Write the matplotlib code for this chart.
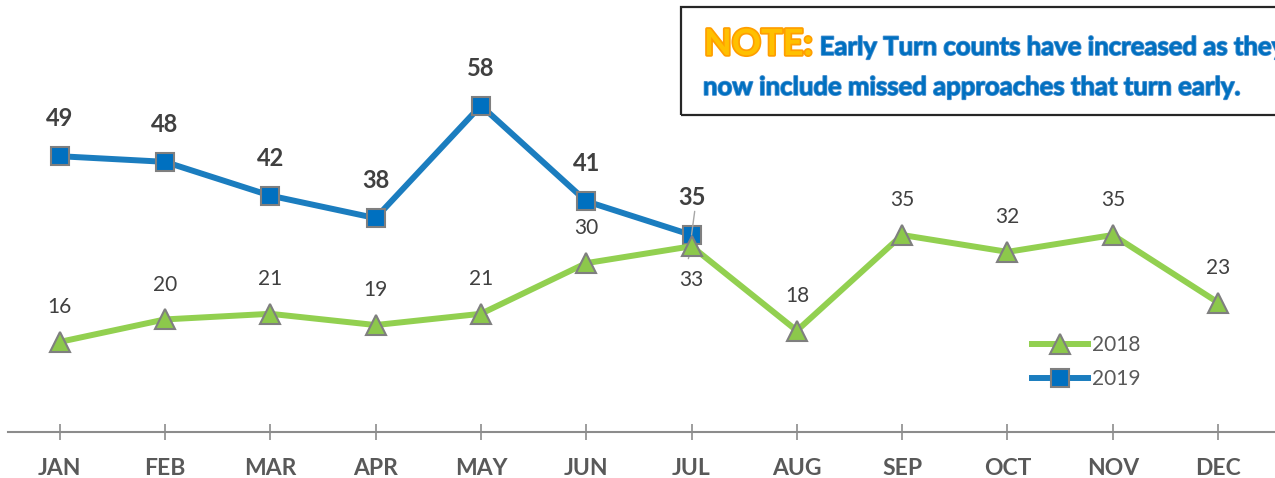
import matplotlib
matplotlib.use("Agg")
import matplotlib.pyplot as plt
import matplotlib.patheffects as pe
from matplotlib.patches import Rectangle

plt.rcParams['font.family'] = ['Lato', 'DejaVu Sans']

months = ['JAN', 'FEB', 'MAR', 'APR', 'MAY', 'JUN', 'JUL', 'AUG', 'SEP', 'OCT', 'NOV', 'DEC']
vals_2018 = [16, 20, 21, 19, 21, 30, 33, 18, 35, 32, 35, 23]
vals_2019 = [49, 48, 42, 38, 58, 41, 35]
series_names = ['2018', '2019']
note_head = 'NOTE:'
note_line1 = 'Early Turn counts have increased as they'
note_line2 = 'now include missed approaches that turn early.'

W, H = 1275, 478
fig = plt.figure(figsize=(W / 100, H / 100), dpi=100)
ax = fig.add_axes([8 / W, (H - 432) / H, (W - 8) / W, 394 / H])

x18 = list(range(len(vals_2018)))
x19 = list(range(len(vals_2019)))

ax.plot(x19, vals_2019, color='#1B7DBF', lw=4.3, marker='s', ms=13,
        mfc='#0070C0', mec='#7F7F7F', mew=1.5, label=series_names[1], zorder=3)
ax.plot(x18, vals_2018, color='#92D050', lw=4.3, marker='^', ms=14,
        mfc='#8CC84B', mec='#7F7F7F', mew=1.5, label=series_names[0], zorder=4)

# data labels
for i, v in enumerate(vals_2019):
    ax.annotate(str(v), (i, v), xytext=(0, 27), textcoords='offset points',
                ha='center', va='center', fontsize=17, fontweight='bold', color='#404040')
for i, v in enumerate(vals_2018):
    dy = -24 if i == 6 else 25
    ax.annotate(str(v), (i, v), xytext=(0, dy), textcoords='offset points',
                ha='center', va='center', fontsize=15, color='#404040')

# leader lines near JUL
ax.annotate('', (6, vals_2019[6]), xytext=(6.03, vals_2019[6] + 4.2),
            arrowprops=dict(arrowstyle='-', color='#A6A6A6', lw=1, shrinkA=0, shrinkB=0))
ax.annotate('', (6, vals_2018[6]), xytext=(-0.03 + 6, vals_2018[6] - 2.2),
            arrowprops=dict(arrowstyle='-', color='#A6A6A6', lw=1, shrinkA=0, shrinkB=0))

ax.set_xlim(-0.49, 11.54)
ax.set_ylim(0, 70)
ax.set_xticks(x18)
ax.set_xticklabels(months, fontsize=16.5, fontweight='bold', color='#595959')
ax.set_yticks([])
for s in ['left', 'top', 'right']:
    ax.spines[s].set_visible(False)
ax.spines['bottom'].set_color('#8C8C8C')
ax.spines['bottom'].set_linewidth(1.5)
ax.tick_params(axis='x', direction='inout', length=11, width=1.2, color='#8C8C8C', pad=13.5)
ax.patch.set_visible(False)

handles, labels = ax.get_legend_handles_labels()
leg = ax.legend(handles[::-1], labels[::-1], loc='upper left',
                bbox_to_anchor=(1032 / W, 1 - 335 / H), bbox_transform=fig.transFigure,
                frameon=False, fontsize=15, handlelength=2.7, handletextpad=0.2,
                labelspacing=0.68, borderpad=0, borderaxespad=0)
for t in leg.get_texts():
    t.set_color('#595959')

# note box (text runs past the right edge like the original)
fig.patches.append(Rectangle((681 / W, 1 - 115 / H), 700 / W, 108 / H,
                             transform=fig.transFigure, fill=False,
                             ec='#262626', lw=1.6))
t1 = fig.text(704 / W, 1 - 55 / H, note_head, fontsize=26, fontweight='bold',
              color='#FFC000', va='baseline', ha='left',
              path_effects=[pe.withStroke(linewidth=2.5, foreground='#FF9E00')])
fig.canvas.draw()
bb = t1.get_window_extent()
blue_fx = [pe.withStroke(linewidth=1.2, foreground='#4A90D0')]
fig.text((bb.x1 + 7) / W, 1 - 55 / H, note_line1, fontsize=18.5, fontweight='bold',
         color='#0070C0', va='baseline', ha='left', path_effects=blue_fx)
fig.text(703 / W, 1 - 95 / H, note_line2, fontsize=18.5, fontweight='bold',
         color='#0070C0', va='baseline', ha='left', path_effects=blue_fx)

fig.savefig('out.png', dpi=100)
